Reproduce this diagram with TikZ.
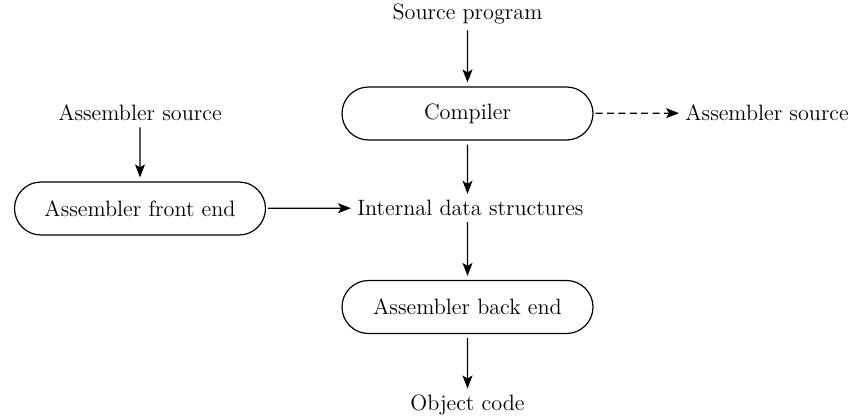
\documentclass[tikz,border=0pt]{standalone}
\usepackage{tikz}
\usetikzlibrary{arrows.meta,positioning,shapes.misc}

\begin{document}
\begin{tikzpicture}[x=0.5pt,y=-0.5pt,
  every node/.style={font=\fontsize{11.1}{13}\selectfont},
  term/.style={draw,rounded rectangle,line width=0.6pt,minimum width=125.5pt,minimum height=26.5pt,inner sep=0pt},
  lbl/.style={inner sep=3pt},
  arr/.style={-{Stealth[length=6.5pt,width=5pt,inset=1.5pt]},line width=0.6pt},
  darr/.style={arr,dash pattern=on 3.5pt off 2.2pt}]
\useasboundingbox (0,0) rectangle (862,418);
\node[term] (comp) at (467.5,113.5) {Compiler};
\node[term] (front) at (140,208.5) {Assembler front end};
\node[term] (back) at (467.5,307) {Assembler back end};
\node[lbl] (src) at (467.5,14) {Source program};
\node[lbl] (asml) at (140,113) {Assembler source};
\node[lbl,anchor=west] (asmr) at (679,113) {Assembler source};
\node[lbl,anchor=west] (ids) at (351,208) {Internal data structures};
\node[lbl] (obj) at (467.5,405) {Object code};
% connectors
\draw[arr,shorten >=2pt] (src) -- (comp);
\draw[arr,shorten >=2pt] (asml) -- (front);
\draw[darr,shorten <=1pt] (comp) -- (asmr);
\draw[arr,shorten <=1pt] (front) -- (ids);
\draw[arr,shorten <=2pt] (comp) -- (ids.north -| comp);
\draw[arr,shorten >=2pt] (ids.south -| comp) -- (back);
\draw[arr,shorten <=2pt] (back) -- (obj);
\end{tikzpicture}
\end{document}
